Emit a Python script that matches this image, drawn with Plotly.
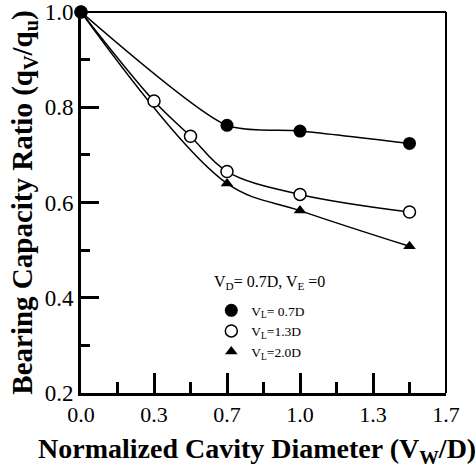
import plotly.graph_objects as go

# Data
x_07 = [0.0, 2/3, 1.0, 1.5]
y_07 = [1.0, 0.762, 0.750, 0.724]

x_13 = [0.0, 1/3, 0.5, 2/3, 1.0, 1.5]
y_13 = [1.0, 0.813, 0.739, 0.665, 0.617, 0.580]

x_20 = [0.0, 2/3, 1.0, 1.5]
y_20 = [1.0, 0.640, 0.583, 0.508]

x_tickvals = [0, 1/3, 2/3, 1.0, 4/3, 5/3]
x_ticktext = ["0.0", "0.3", "0.7", "1.0", "1.3", "1.7"]
y_tickvals = [0.2, 0.4, 0.6, 0.8, 1.0]
y_ticktext = ["0.2", "0.4", "0.6", "0.8", "1.0"]

FONT = "Liberation Serif"
series = [
    (x_07, y_07, "V<sub>L</sub>= 0.7D", dict(symbol="circle", size=13, color="black"), 0.65),
    (x_13, y_13, "V<sub>L</sub>=1.3D", dict(symbol="circle", size=12, color="white", line=dict(width=1.5, color="black")), 1.0),
    (x_20, y_20, "V<sub>L</sub>=2.0D", dict(symbol="triangle-up", size=11, color="black"), 1.0),
]

fig = go.Figure()
for xs, ys, name, mk, sm in series:
    fig.add_trace(go.Scatter(x=xs, y=ys, mode="lines", line=dict(color="black", width=1.5, shape="spline", smoothing=sm),
                             showlegend=False, hoverinfo="skip", cliponaxis=False))
for xs, ys, name, mk, sm in reversed(series):
    fig.add_trace(go.Scatter(x=xs, y=ys, mode="markers", marker=mk, name=name, cliponaxis=False))

fig.update_layout(
    width=476, height=468,
    margin=dict(l=81, r=30, t=12, b=75),
    paper_bgcolor="white", plot_bgcolor="white",
    font=dict(family=FONT, color="black"),
    showlegend=True,
    legend=dict(x=0.357, y=0.257, xanchor="left", yanchor="top", font=dict(size=13.5, family=FONT),
                bgcolor="rgba(0,0,0,0)", tracegroupgap=0, itemwidth=30, traceorder="reversed"),
    annotations=[
        dict(x=0.36, y=0.29, xref="paper", yref="paper", xanchor="left", yanchor="middle",
             text="V<sub>D</sub>= 0.7D, V<sub>E</sub> =0", showarrow=False,
             font=dict(size=16, family=FONT)),
        dict(x=0.482, y=-0.15, xref="paper", yref="paper", xanchor="center", yanchor="middle",
             text="<b>Normalized Cavity Diameter (V<sub>W</sub>/D)</b>", showarrow=False,
             font=dict(size=28, family=FONT)),
    ],
    shapes=[
        dict(type="line", xref="paper", yref="paper", x0=0, x1=1, y0=1, y1=1, layer="below", line=dict(color="black", width=2)),
        dict(type="line", xref="paper", yref="paper", x0=1, x1=1, y0=0, y1=1, layer="below", line=dict(color="black", width=2)),
    ],
)

fig.update_xaxes(
    range=[0, 5/3], tickmode="array", tickvals=x_tickvals, ticktext=x_ticktext,
    ticks="inside", ticklen=20, tickwidth=3, tickcolor="black", automargin=False,
    showline=True, linewidth=3, linecolor="black", showgrid=False, zeroline=False,
    tickfont=dict(size=22, family=FONT),
    minor=dict(tick0=0, dtick=1/6, ticks="inside", ticklen=11, tickwidth=3, tickcolor="black", showgrid=False),
)
fig.update_yaxes(
    range=[0.2, 1.0], tickmode="array", tickvals=y_tickvals, ticktext=y_ticktext,
    ticks="inside", ticklen=18, tickwidth=3, tickcolor="black", ticklabeloverflow="allow", automargin=False,
    showline=True, linewidth=3, linecolor="black", showgrid=False, zeroline=False,
    tickfont=dict(size=23, family=FONT),
    minor=dict(tick0=0.2, dtick=0.1, ticks="inside", ticklen=9, tickwidth=3, tickcolor="black", showgrid=False),
    title=dict(text="<b>Bearing Capacity Ratio (q<sub>V</sub>/q<sub>u</sub>)</b>", font=dict(size=29, family=FONT), standoff=4),
)

fig.write_html("out.html")
